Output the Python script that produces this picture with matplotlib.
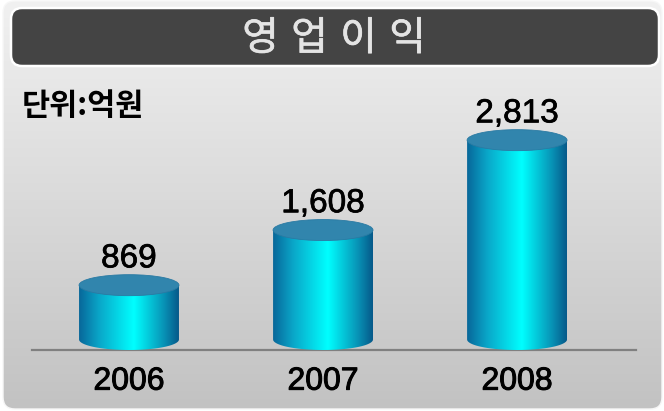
import matplotlib
matplotlib.use("Agg")
import matplotlib.pyplot as plt
import matplotlib.patheffects as pe
import numpy as np
from matplotlib.colors import LinearSegmentedColormap
from matplotlib.patches import Ellipse, FancyBboxPatch, PathPatch
from matplotlib.path import Path

plt.rcParams["font.family"] = ["Noto Sans CJK KR", "DejaVu Sans"]

TITLE = "영 업 이 익"
UNIT_LABEL = "단위:억원"
YEARS = ["2006", "2007", "2008"]
PROFIT = [869, 1608, 2813]
VALUE_LABELS = ["869", "1,608", "2,813"]

W, H, DPI = 664, 411, 100
fig = plt.figure(figsize=(W / DPI, H / DPI), dpi=DPI)

# background panel + title bar, drawn in pixel space
bg = fig.add_axes([0, 0, 1, 1])
bg.set_xlim(0, W)
bg.set_ylim(H, 0)
bg.axis("off")

frame = FancyBboxPatch((3, 1), 659, 408, boxstyle="round,pad=0,rounding_size=12",
                       facecolor="none", edgecolor="#f7f7f7", lw=1, zorder=1)
bg.add_patch(frame)
grad = np.linspace(0, 1, 256).reshape(-1, 1)
panel_cmap = LinearSegmentedColormap.from_list("panel", ["#f1f1f1", "#c2c2c2"])
img = bg.imshow(grad, cmap=panel_cmap, extent=[3, 662, 409, 1], aspect="auto", zorder=0)
img.set_clip_path(frame)

title_bar = FancyBboxPatch((11, 8), 648, 58, boxstyle="round,pad=0,rounding_size=11",
                           facecolor="#444444", edgecolor="white", lw=1.8, zorder=2)
bg.add_patch(title_bar)
# DejaVu first so the spaces come out a little wider; Hangul falls back to Noto
bg.text(334, 39, TITLE, color="#e4e4e4", fontsize=28.5,
        family=["DejaVu Sans", "Noto Sans CJK KR"],
        ha="center", va="center", zorder=3,
        path_effects=[pe.withStroke(linewidth=0.5, foreground="#e4e4e4")])
bg.text(22, 106, UNIT_LABEL, color="black", fontsize=22, fontweight="bold",
        ha="left", va="center", zorder=3)

# chart axes
x_left, x_right, base_px = 32, 636, 350
y_top = 3600
px_per_unit = 0.0746
ax_h = y_top * px_per_unit
ax = fig.add_axes([x_left / W, (H - base_px) / H, (x_right - x_left) / W, ax_h / H])
ax.patch.set_alpha(0)
ax.set_xlim(-0.5, 2.613)
ax.set_ylim(0, y_top)
for side in ("top", "right", "left"):
    ax.spines[side].set_visible(False)
ax.spines["bottom"].set_color("#808080")
ax.spines["bottom"].set_linewidth(1.6)
ax.spines["bottom"].set_zorder(1)
ax.set_yticks([])
x = np.arange(len(YEARS))
ax.set_xticks(x, YEARS)
ax.tick_params(axis="x", length=0, pad=12)
for lbl in ax.get_xticklabels():
    lbl.set_family(["Liberation Sans", "DejaVu Sans"])
    lbl.set_fontsize(23)
    lbl.set_path_effects([pe.withStroke(linewidth=0.7, foreground="black")])

bar_w = 0.515
ry = 10.5 / px_per_unit  # ellipse half-height in data units
body_cmap = LinearSegmentedColormap.from_list(
    "body", [(0, "#08679a"), (0.2, "#0aa6c8"), (0.55, "#00ffff"), (0.85, "#0893b6"), (1, "#06598a")])
hgrad = np.linspace(0, 1, 256).reshape(1, -1)

for xi, v, lab in zip(x, PROFIT, VALUE_LABELS):
    x0, x1 = xi - bar_w / 2, xi + bar_w / 2
    t = np.linspace(np.pi, 2 * np.pi, 60)
    arc = np.column_stack([xi + bar_w / 2 * np.cos(t), ry + ry * np.sin(t)])
    verts = np.vstack([[x0, v], [x0, ry], arc, [x1, ry], [x1, v], [x0, v]])
    body = PathPatch(Path(verts, closed=True), facecolor="none", edgecolor="none",
                     transform=ax.transData)
    ax.add_patch(body)
    im = ax.imshow(hgrad, cmap=body_cmap, extent=[x0, x1, 0, v], aspect="auto",
                   zorder=2, interpolation="bilinear")
    im.set_clip_path(body)
    ax.add_patch(Ellipse((xi, v), bar_w, 2 * ry, facecolor="#3185ad",
                         edgecolor="#2a7aa3", lw=0.6, zorder=3))
    ax.annotate(lab, (xi, v), xytext=(0, 12.8), textcoords="offset points",
                ha="center", va="baseline", fontsize=24,
                family=["Liberation Sans", "DejaVu Sans"], zorder=4,
                path_effects=[pe.withStroke(linewidth=0.5, foreground="black")])

ax.set_xlim(-0.5, 2.613)
ax.set_ylim(0, y_top)

fig.savefig("out.png", dpi=DPI)
